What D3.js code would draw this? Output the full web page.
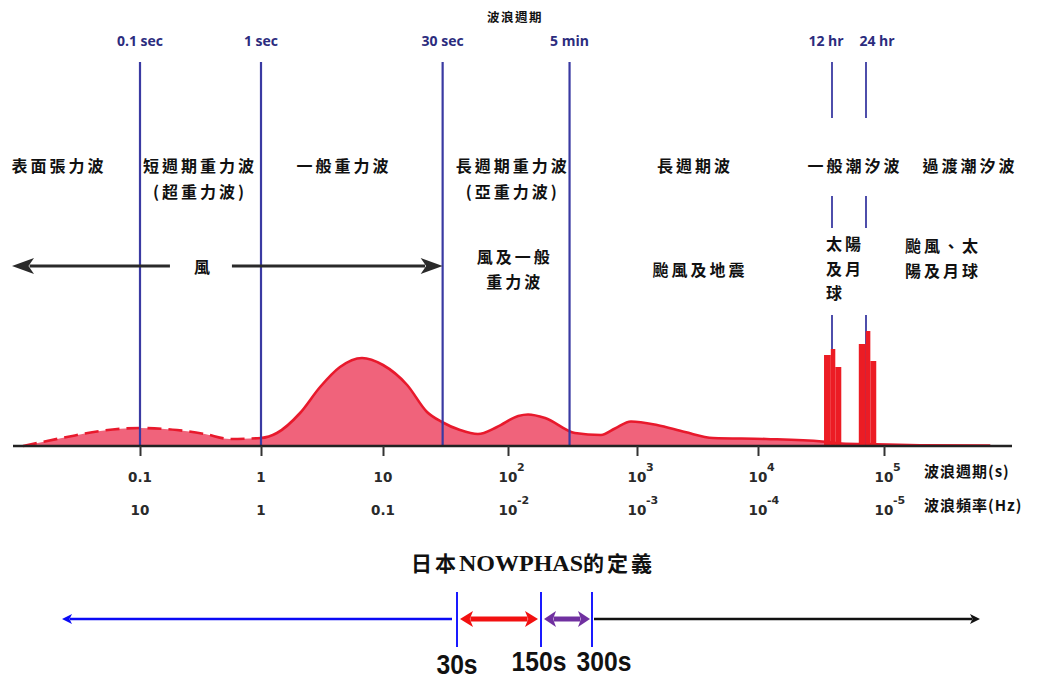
<!DOCTYPE html>
<html>
<head>
<meta charset="utf-8">
<script src="https://cdn.jsdelivr.net/npm/d3@7"></script>
<style>
  body { margin: 0; background: #fff; }
  svg { display: block; }
  .cjk { font-family: "Noto Sans CJK TC", "Noto Sans CJK SC", sans-serif; font-weight: 700; }
  .num { font-family: "Liberation Sans", Arial, sans-serif; font-weight: 700; }
  .tick-label { font-family: "DejaVu Sans", sans-serif; font-weight: 700; }
</style>
</head>
<body>
<div id="container"></div>
<script>
/* DATA */
// wave period axis (s) and its frequency twin (Hz)
const tickPeriods = [0.1, 1, 10, 100, 1000, 1e4, 1e5];
const periodTickText = [["0.1", ""], ["1", ""], ["10", ""], ["10", "2"], ["10", "3"], ["10", "4"], ["10", "5"]];
const freqTickText = [["10", ""], ["1", ""], ["0.1", ""], ["10", "-2"], ["10", "-3"], ["10", "-4"], ["10", "-5"]];

// blue period markers across the top
const markerPeriods = [0.1, 1, 30, 300, 43200, 86400];
const markerLabels = ["0.1 sec", "1 sec", "30 sec", "5 min", "12 hr", "24 hr"];

// relative energy of the wave spectrum
const specPeriods = [0.0108, 0.0249, 0.0468, 0.1, 0.202, 0.344, 0.555, 1, 1.35, 2.09, 3.05, 4.44, 6.73, 10,
  15.6, 22.5, 29.6, 41.3, 57.5, 81.7, 120, 143, 194, 330, 526, 675, 898, 1463, 2493, 4248, 11720, 35480,
  51950, 93700, 1.95e5, 7.2e5];
const specEnergy = [0, 9, 15, 18, 16, 12, 7, 8, 13, 33, 59, 79, 88, 81,
  61, 34, 24, 16, 12, 19, 30, 31.5, 28, 13, 11, 17.5, 24.5, 21, 14, 8, 7, 4.5,
  2.5, 1.7, 0.8, 0.4];
const dashedUpTo = 1; // spectrum shown dashed below 1 s

// tidal spikes
const tideStart = [36900, 42200, 46200, 74600, 86000, 89500];
const tideEnd = [42200, 46200, 52200, 86000, 89500, 93900];
const tideEnergy = [91, 97, 79, 102, 115, 85];

// regime names (top row) and forcing names, anchored at a period
const regimeNames = [["表面張力波"], ["短週期重力波", "(超重力波)"], ["一般重力波"], ["長週期重力波", "(亞重力波)"],
  ["長週期波"], ["一般潮汐波"], ["過渡潮汐波"]];
const regimePeriods = [0.0214, 0.313, 4.79, 109, 3013, 69100, 4.94e5];
const forcingNames = [["風及一般", "重力波"], ["颱風及地震"], ["太陽", "及月", "球"], ["颱風、太", "陽及月球"]];
const forcingPeriods = [113, 3311, 38400, 1.48e5];
const forcingAnchor = ["middle", "middle", "start", "start"];
const forcingTop = [263, 276, 250, 252];
const windLabel = "風";
const windPeriod = 0.325;

// Japanese NOWPHAS definition
const nowphasTitle = ["日本", "NOWPHAS", "的定義"];
const nowphasBounds = [30, 150, 300];
const nowphasLabels = ["30s", "150s", "300s"];

/* CONSTANTS */
const width = 1046, height = 680;
const base = 446;
const lineColor = "#3a3aa2";
const fillColor = "#f0637b";
const curveColor = "#e8192c";
const narrow = 0.88; // horizontal squeeze for the condensed numerals

const svg = d3.select("#container").append("svg")
  .attr("width", width).attr("height", height);

/* SCALES */
// the schematic axis is not strictly uniform, so its stops follow the picture
const xScale = d3.scaleLog()
  .domain([0.1, 1, 10, 100, 1000, 1e4, 43200, 86400, 1e5, 1e6])
  .range([140, 261, 383, 508, 637, 758, 832, 866, 884, 1008]);
const yScale = d3.scaleLinear().domain([0, 100]).range([base, base - 100]);

const spec = specPeriods.map((p, i) => ({ p, e: specEnergy[i] }));

/* SPECTRUM */
const defs = svg.append("defs");
defs.append("clipPath").attr("id", "clipDash").append("rect")
  .attr("x", 0).attr("y", 0).attr("width", xScale(dashedUpTo)).attr("height", height);
defs.append("clipPath").attr("id", "clipSolid").append("rect")
  .attr("x", xScale(dashedUpTo)).attr("y", 0).attr("width", width).attr("height", height);

const area = d3.area()
  .x(d => xScale(d.p)).y0(yScale(0)).y1(d => yScale(d.e))
  .curve(d3.curveMonotoneX);
const line = d3.line()
  .x(d => xScale(d.p)).y(d => yScale(d.e))
  .curve(d3.curveMonotoneX);

svg.append("path").datum(spec).attr("d", area).attr("fill", fillColor);
svg.append("path").datum(spec).attr("d", line)
  .attr("fill", "none").attr("stroke", curveColor).attr("stroke-width", 2.6)
  .attr("stroke-dasharray", "14,7").attr("clip-path", "url(#clipDash)");
svg.append("path").datum(spec).attr("d", line)
  .attr("fill", "none").attr("stroke", curveColor).attr("stroke-width", 2.6)
  .attr("clip-path", "url(#clipSolid)");

/* MARKER LINES */
const fullLine = [[62, base]];
const tideLine = [[62, 118], [196, 228], [315, base]];
markerPeriods.forEach((p, i) => {
  const segs = p > 1e4 ? tideLine : fullLine;
  segs.forEach(s => {
    svg.append("line")
      .attr("x1", xScale(p)).attr("x2", xScale(p))
      .attr("y1", s[0]).attr("y2", s[1])
      .attr("stroke", lineColor).attr("stroke-width", p > 1e4 ? 1.8 : 2.2);
  });
});

const markerDx = [0, 0, 0, 0, -6, 11];
svg.selectAll("text.marker")
  .data(markerLabels)
  .join("text")
  .attr("class", "marker")
  .attr("x", (d, i) => xScale(markerPeriods[i]) + markerDx[i])
  .attr("y", 46)
  .attr("text-anchor", "middle")
  .attr("font-family", "'Open Sans', 'DejaVu Sans', sans-serif")
  .attr("font-weight", 700)
  .attr("font-size", 14)
  .attr("fill", "#2c2c7e")
  .text(d => d);

svg.append("text").attr("class", "cjk")
  .attr("x", 515).attr("y", 22).attr("text-anchor", "middle")
  .attr("font-size", 12.5).attr("letter-spacing", 1.5).attr("fill", "#111")
  .text("波浪週期");

/* TIDE BARS */
svg.selectAll("rect.tide")
  .data(tideEnergy)
  .join("rect")
  .attr("class", "tide")
  .attr("x", (d, i) => xScale(tideStart[i]))
  .attr("width", (d, i) => xScale(tideEnd[i]) - xScale(tideStart[i]))
  .attr("y", d => yScale(d))
  .attr("height", d => yScale(0) - yScale(d))
  .attr("fill", "#ec1c24");

/* AXIS */
svg.append("line")
  .attr("x1", 13).attr("x2", 1012).attr("y1", base).attr("y2", base)
  .attr("stroke", "#222").attr("stroke-width", 2.6);

const xAxis = d3.axisBottom(xScale).tickValues(tickPeriods).tickSize(10).tickFormat("");
const axisG = svg.append("g").attr("transform", `translate(0,${base})`).call(xAxis);
axisG.select(".domain").remove();
axisG.selectAll(".tick line").attr("stroke", "#333").attr("stroke-width", 2);

function tickRow(labels, y) {
  const g = svg.append("g").attr("class", "tick-label").attr("fill", "#2a2a2a");
  labels.forEach((t, i) => {
    const x = xScale(tickPeriods[i]);
    g.append("text").attr("x", x).attr("y", y).attr("text-anchor", "middle")
      .attr("font-size", 13.5).text(t[0]);
    if (t[1]) g.append("text").attr("x", x + 9).attr("y", y - 11).attr("text-anchor", "start")
      .attr("font-size", 11).text(t[1]);
  });
}
tickRow(periodTickText, 482);
tickRow(freqTickText, 515);

svg.append("text").attr("class", "cjk").attr("x", 924).attr("y", 477)
  .attr("font-size", 15).attr("letter-spacing", 1).attr("fill", "#111").text("波浪週期(s)");
svg.append("text").attr("class", "cjk").attr("x", 924).attr("y", 511)
  .attr("font-size", 15).attr("letter-spacing", 1).attr("fill", "#111").text("波浪頻率(Hz)");

/* REGIME & FORCING NAMES */
regimeNames.forEach((lines, i) => {
  lines.forEach((txt, j) => {
    svg.append("text").attr("class", "cjk")
      .attr("x", xScale(regimePeriods[i])).attr("y", 172 + j * 26)
      .attr("text-anchor", "middle").attr("font-size", 16).attr("letter-spacing", 3)
      .attr("fill", "#111").text(txt);
  });
});
forcingNames.forEach((lines, i) => {
  lines.forEach((txt, j) => {
    svg.append("text").attr("class", "cjk")
      .attr("x", xScale(forcingPeriods[i])).attr("y", forcingTop[i] + j * 24.5)
      .attr("text-anchor", forcingAnchor[i]).attr("font-size", 16).attr("letter-spacing", 3)
      .attr("fill", "#111").text(txt);
  });
});

/* WIND ARROW */
function arrow(g, x1, x2, y, color, w, headL, headR, len, half) {
  g.append("line")
    .attr("x1", headL ? x1 + len * 0.8 : x1).attr("x2", headR ? x2 - len * 0.8 : x2)
    .attr("y1", y).attr("y2", y)
    .attr("stroke", color).attr("stroke-width", w);
  if (headL) g.append("path").attr("fill", color)
    .attr("d", `M${x1},${y}L${x1 + len},${y - half}L${x1 + len * 0.75},${y}L${x1 + len},${y + half}Z`);
  if (headR) g.append("path").attr("fill", color)
    .attr("d", `M${x2},${y}L${x2 - len},${y - half}L${x2 - len * 0.75},${y}L${x2 - len},${y + half}Z`);
}
const windG = svg.append("g");
const windX = xScale(windPeriod);
arrow(windG, 12, windX - 32, 266, "#2a2a2a", 3, true, false, 22, 8);
arrow(windG, windX + 30, xScale(30), 266, "#2a2a2a", 3, false, true, 22, 8);
svg.append("text").attr("class", "cjk").attr("x", windX).attr("y", 273)
  .attr("text-anchor", "middle").attr("font-size", 16).attr("fill", "#111").text(windLabel);

/* NOWPHAS DEFINITION */
const title = svg.append("text").attr("x", 533).attr("y", 571)
  .attr("text-anchor", "middle").attr("fill", "#111");
title.append("tspan").attr("class", "cjk").attr("font-size", 21).attr("letter-spacing", 3).text(nowphasTitle[0]);
title.append("tspan").attr("font-family", "'Liberation Serif', serif").attr("font-weight", 700)
  .attr("font-size", 24).text(nowphasTitle[1]);
title.append("tspan").attr("class", "cjk").attr("font-size", 21).attr("letter-spacing", 3).text(nowphasTitle[2]);

const nScale = d3.scaleLog().domain(nowphasBounds).range([457, 541, 592]);
const nY = 619;
const bandColors = ["#0a0af5", "#f21010", "#7030a0", "#111"];
const bottomG = svg.append("g");
arrow(bottomG, 62, nScale(30) - 5, nY, bandColors[0], 2.5, true, false, 10, 5);
arrow(bottomG, nScale(30) + 3, nScale(150) - 3, nY, bandColors[1], 5, true, true, 13, 8);
arrow(bottomG, nScale(150) + 3, nScale(300) - 2, nY, bandColors[2], 5, true, true, 12, 8);
arrow(bottomG, nScale(300) + 2, 980, nY, bandColors[3], 2.5, false, true, 10, 5);

bottomG.selectAll("line.bound")
  .data(nowphasBounds)
  .join("line").attr("class", "bound")
  .attr("x1", d => nScale(d)).attr("x2", d => nScale(d))
  .attr("y1", 592).attr("y2", 647)
  .attr("stroke", "#1a1aff").attr("stroke-width", 2);

const labelDx = [0, -2, 12], labelDy = [3, 0, 0];
nowphasLabels.forEach((txt, i) => {
  bottomG.append("text").attr("class", "num")
    .attr("transform", `translate(${nScale(nowphasBounds[i]) + labelDx[i]},${671 + labelDy[i]}) scale(${narrow},1)`)
    .attr("text-anchor", "middle").attr("font-size", 28).attr("fill", "#111").text(txt);
});
</script>
</body>
</html>
